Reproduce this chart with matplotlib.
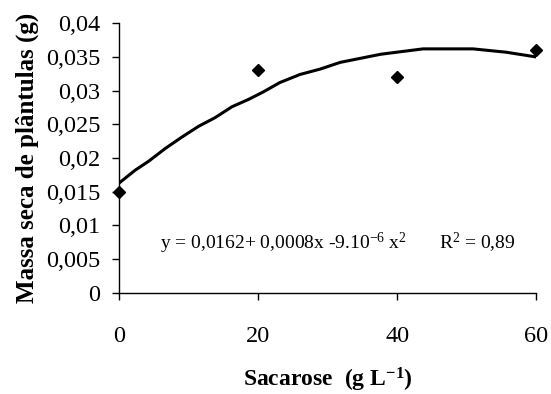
import matplotlib
matplotlib.use("Agg")
import matplotlib.pyplot as plt
from matplotlib.ticker import FuncFormatter

plt.rcParams['font.family'] = ['Liberation Serif', 'DejaVu Serif']
plt.rcParams['mathtext.fontset'] = 'custom'
plt.rcParams['mathtext.rm'] = 'Liberation Serif'
plt.rcParams['mathtext.it'] = 'Liberation Serif:italic'
plt.rcParams['mathtext.bf'] = 'Liberation Serif:bold'

# observed means
sacarose = [0, 20, 40, 60]
massa = [0.015, 0.033, 0.032, 0.036]

# trend line
trend_x = [0, 2.3, 4.2, 6.6, 9, 11.4, 13.8, 16.2, 18.6, 20.7, 23.1, 26, 28.9,
           31.8, 34.7, 37.6, 41.4, 43.7, 47, 50.9, 55.7, 60]
trend_y = [0.0163, 0.0182, 0.0195, 0.0214, 0.0231, 0.0247, 0.0260, 0.0276,
           0.0287, 0.0298, 0.0312, 0.0324, 0.0332, 0.0342, 0.0348, 0.0354,
           0.0359, 0.0362, 0.0362, 0.0362, 0.0357, 0.0350]

xticks = [0, 20, 40, 60]
yticks = [0, 0.005, 0.01, 0.015, 0.02, 0.025, 0.03, 0.035, 0.04]

fig = plt.figure(figsize=(5.51, 3.94), dpi=100)
ax = fig.add_axes([0.2165, 0.2571, 0.7568, 0.6838])

ax.plot(trend_x, trend_y, color='black', lw=2.2, solid_capstyle='butt')
ax.plot(sacarose, massa, linestyle='none', marker='D', markersize=6.5,
        color='black', clip_on=False)

ax.set_xlim(0, 60)
ax.set_ylim(0, 0.04)
ax.set_xticks(xticks)
ax.set_yticks(yticks)
ax.yaxis.set_major_formatter(FuncFormatter(lambda v, p: ('%g' % v).replace('.', ',')))
ax.spines['top'].set_visible(False)
ax.spines['right'].set_visible(False)
for s in ('left', 'bottom'):
    ax.spines[s].set_linewidth(1.0)
ax.tick_params(axis='both', direction='out', length=5, width=1.0, labelsize=17.5)
ax.tick_params(axis='x', pad=19)
ax.tick_params(axis='y', pad=8.5)

ax.text(160 / 551, 1 - 243 / 394, r'y = 0,0162+ 0,0008x -9.10$^{-6}$ x$^{2}$',
        transform=fig.transFigure, fontsize=14, ha='left', va='center')
ax.text(439 / 551, 1 - 243 / 394, r'R$^{2}$ = 0,89',
        transform=fig.transFigure, fontsize=14, ha='left', va='center')

fig.text(27 / 551, 0.599, 'Massa seca de plântulas (g)', rotation=90,
         fontsize=18, fontweight='bold', ha='center', va='center')
fig.text(328 / 551, 8 / 394, r'Sacarose  (g L$^{\mathbf{-1}}$)',
         fontsize=17, fontweight='bold', ha='center', va='baseline')

fig.savefig('out.png', dpi=100)
